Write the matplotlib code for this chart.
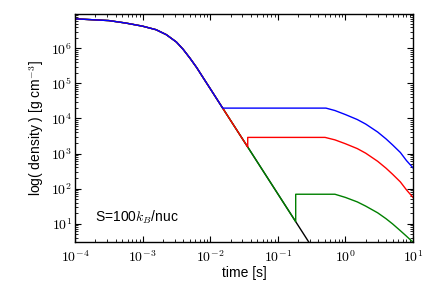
import numpy as np
import matplotlib
matplotlib.use("Agg")
import matplotlib.pyplot as plt
from matplotlib.ticker import FuncFormatter, LogLocator

plt.rcParams['mathtext.fontset'] = 'cm'
plt.rcParams['font.family'] = ['Liberation Sans', 'DejaVu Sans']

# base expansion curve (black), in s and g/cm^3
base_t = [1e-4, 3.16e-4, 5.62e-4, 1e-3, 1.58e-3, 2.24e-3, 3.16e-3, 3.98e-3,
          5.01e-3, 6.31e-3, 7.94e-3, 1e-2, 1.53e-2, 3.59e-2, 0.184, 0.5, 1.0]
base_rho = [6.92e6, 6.17e6, 5.25e6, 4.27e6, 3.39e6, 2.45e6, 1.51e6, 9.33e5,
            5.25e5, 2.82e5, 1.41e5, 7.08e4, 1.97e4, 1.53e3, 11.4, 0.566, 0.0708]

# decay times after plateau (common)
decay_t = [0.7, 1.0, 1.5, 2.0, 3.0, 4.0, 5.0, 6.5, 8.0, 10.0]

# blue: split at 1.53e-2, plateau until 0.516
blue_split_t = 1.53e-2
blue_plateau = 1.97e4
blue_end_t = 0.516
blue_decay = [1.68e4, 1.29e4, 9.3e3, 6.9e3, 4.1e3, 2.6e3, 1.75e3, 1.07e3, 6.3e2, 3.9e2]

# red: split at 3.59e-2, jump to plateau, until 0.50
red_split_t = 3.59e-2
red_split_rho = 1.53e3
red_plateau = 2.88e3
red_end_t = 0.50
red_decay = [2.45e3, 1.90e3, 1.38e3, 1.02e3, 6.0e2, 3.8e2, 2.55e2, 1.55e2, 9.2e1, 5.6e1]

# green: split at 0.184, jump to plateau, until 0.686
green_split_t = 0.184
green_split_rho = 11.4
green_plateau = 69.0
green_end_t = 0.686
green_decay = [69.0, 56.0, 41.7, 31.6, 20.4, 13.8, 9.8, 6.3, 4.4, 2.95]

fig = plt.figure(figsize=(4.36, 2.91), dpi=100)
ax = fig.add_axes([75/436, (291-242)/291, 338/436, 228/291])

ax.plot(base_t, base_rho, color='k', lw=1.0)

def branch(split_t, split_rho, plateau, end_t, decay):
    bt = [t for t in base_t if t < split_t] + [split_t]
    br = [r for t, r in zip(base_t, base_rho) if t < split_t] + [split_rho]
    dt = [t for t in decay_t if t > end_t]
    dr = [r for t, r in zip(decay_t, decay) if t > end_t]
    return (bt + [split_t, end_t] + dt,
            br + [plateau, plateau] + dr)

gt, gr = branch(green_split_t, green_split_rho, green_plateau, green_end_t, green_decay)
ax.plot(gt, gr, color='#008000', lw=1.0)
rt, rr = branch(red_split_t, red_split_rho, red_plateau, red_end_t, red_decay)
ax.plot(rt, rr, color='r', lw=1.0)
bt, br = branch(blue_split_t, blue_plateau, blue_plateau, blue_end_t, blue_decay)
ax.plot(bt, br, color='b', lw=1.0)

ax.set_xscale('log')
ax.set_yscale('log')
ax.set_xlim(1e-4, 10)
ax.set_ylim(3, 9.5e6)

fmt = FuncFormatter(lambda v, p: r'$10^{%d}$' % int(round(np.log10(v))))
ax.xaxis.set_major_formatter(fmt)
ax.yaxis.set_major_formatter(fmt)
ax.xaxis.set_major_locator(LogLocator(base=10, numticks=10))
ax.yaxis.set_major_locator(LogLocator(base=10, numticks=10))
ax.tick_params(which='both', direction='in', top=True, right=True, labelsize=10)
ax.tick_params(which='major', length=4, width=0.8)
ax.tick_params(which='minor', length=2, width=0.6)
ax.tick_params(axis='x', which='major', pad=5)
ax.tick_params(axis='y', which='major', pad=2)
for s in ax.spines.values():
    s.set_linewidth(1.0)

ax.set_xlabel('time [s]', fontsize=10, labelpad=1)
ax.set_ylabel(r'log( density ) [g cm$^{-3}$]', fontsize=10, labelpad=4)
ax.text(0.06, 0.11, r'S=100$k_B$/nuc', transform=ax.transAxes, fontsize=10,
        va='center', ha='left')

fig.savefig('out.png', dpi=100)
